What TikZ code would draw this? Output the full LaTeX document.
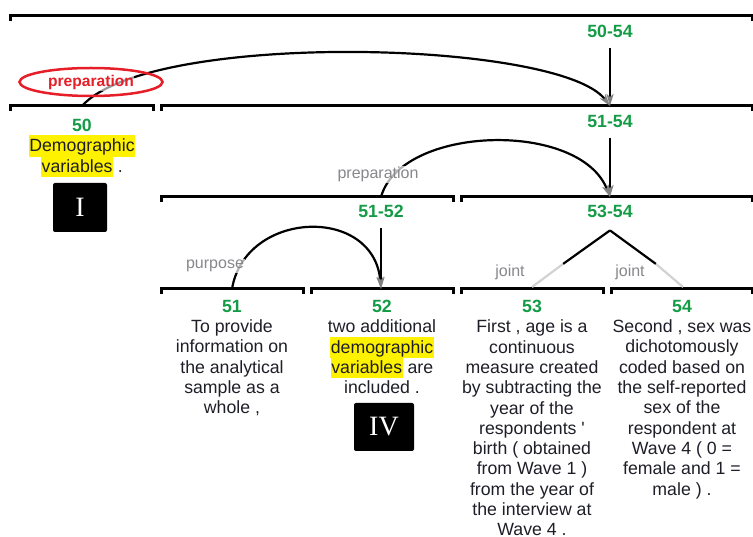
\documentclass[tikz,border=0pt]{standalone}
\usepackage{fontspec}
\setmainfont{Liberation Sans}
\newfontfamily\numeralfont{Liberation Serif}
\usetikzlibrary{arrows.meta,shapes.geometric}
\definecolor{spangreen}{RGB}{20,155,70}
\definecolor{relgray}{RGB}{135,135,140}
\definecolor{prepred}{RGB}{230,30,40}
\definecolor{textdark}{RGB}{30,30,40}
\newcommand\spannum[1]{\textcolor{spangreen}{\bfseries #1}}
\newcommand\hilite[1]{{\setlength{\fboxsep}{0.5pt}\colorbox{yellow}{\rule[-4.5pt]{0pt}{20.5pt}#1}}}
\newcommand\leaffont{\fontsize{17.7}{20.3}\selectfont\setlength{\lineskiplimit}{-20pt}}
\tikzset{
    bar/.style={line width=3pt},
    span/.style={anchor=base,inner sep=0pt,text=spangreen,font=\bfseries\fontsize{17.7}{20.3}\selectfont},
    leaf/.style={anchor=north,align=center,inner sep=0pt,text=textdark,font=\leaffont},
    rel/.style={anchor=base,inner sep=1pt,text=relgray,fill=white,fill opacity=0.7,text opacity=1,font=\fontsize{16}{18}\selectfont},
    link/.style={line width=2.2pt,-{Stealth[length=12pt,width=7pt,inset=3pt,color=gray]}},
    joinline/.style={line width=2.2pt},
    joinfade/.style={line width=2.2pt,draw=gray!35},
    numbox/.style={fill=black,rounded corners=2pt,text=white,font=\numeralfont\fontsize{28}{28}\selectfont},
    prepring/.style={ellipse,draw=prepred,line width=2.5pt,minimum width=143pt,minimum height=28pt,inner sep=0pt},
    preptext/.style={anchor=base,inner sep=0.5pt,text=prepred,fill=white,fill opacity=0.6,text opacity=1,font=\bfseries\fontsize{15.6}{18}\selectfont},
}
\begin{document}
\begin{tikzpicture}[x=1pt,y=-1pt]
    \useasboundingbox (0,0) rectangle (753,537);
    \foreach \a/\b/\y in {10/752/16,10/153/106,161/752/106,161/453/197,461/752/197,161/303/289,311/453/289,461/603/289,611/752/289}
        \draw[bar] (\a,\y+5) -- (\a,\y) -- (\b,\y) -- (\b,\y+5);
    \coordinate (t50) at (82,106);
    \coordinate (t5154) at (610,106);
    \coordinate (t5152) at (381,197);
    \coordinate (t5354) at (610,197);
    \coordinate (t51) at (232,289);
    \coordinate (t52) at (381,289);
    \coordinate (t53) at (532,287);
    \coordinate (t54) at (683,287);
    \coordinate (m53) at (563,264);
    \coordinate (m54) at (656,264);
    \node[span] (l5054) at (610,38) {50-54};
    \node[span] (l5154) at (610,128) {51-54};
    \node[span] (l5152) at (381,218) {51-52};
    \node[span] (l5354) at (610,218) {53-54};
    \draw[link] (t50) .. controls +(68,-76) and +(-50,-66) .. (t5154);
    \draw[link,shorten <=10pt] (l5054.south) -- (t5154);
    \draw[link] (t5152) .. controls +(20,-72) and +(-30,-77) .. (t5354);
    \draw[link,shorten <=10pt] (l5154.south) -- (t5354);
    \draw[link] (t51) .. controls +(13,-79) and +(-7,-84) .. (t52);
    \draw[link,shorten <=10pt] (l5152.south) -- (t52);
    \draw[joinline] ([yshift=-12pt]l5354.south) -- (m53);
    \draw[joinfade] (m53) -- (t53);
    \draw[joinline] ([yshift=-12pt]l5354.south) -- (m54);
    \draw[joinfade] (m54) -- (t54);
    \node[prepring] (ring) at (91,82) {};
    \node[preptext] (prep) at (91,87) {preparation};
    \node[rel] (rprep) at (378,178.5) {preparation};
    \node[rel] (rpurp) at (215,268.5) {purpose};
    \node[rel] (rjoin1) at (510,277) {joint};
    \node[rel] (rjoin2) at (630,277) {joint};
    \node[leaf] (n50) at (82,119) {\spannum{50}\\\hilite{Demographic}\\\hilite{variables} .};
    \node[leaf] (n51) at (232,300) {\spannum{51}\\To provide\\information on\\the analytical\\sample as a\\whole ,};
    \node[leaf] (n52) at (382,300) {\spannum{52}\\two additional\\\hilite{demographic}\\\hilite{variables} are\\included .};
    \node[leaf] (n53) at (532,300) {\spannum{53}\\First , age is a\\continuous\\measure created\\by subtracting the\\year of the\\respondents \textquotesingle\\birth ( obtained\\from Wave 1 )\\from the year of\\the interview at\\Wave 4 .};
    \node[leaf] (n54) at (682,300) {\spannum{54}\\Second , sex was\\dichotomously\\coded based on\\the self-reported\\sex of the\\respondent at\\Wave 4 ( 0 =\\female and 1 =\\male ) .};
    \node[numbox,minimum width=54pt,minimum height=49pt] (box1) at (80,207.5) {I};
    \node[numbox,minimum width=60pt,minimum height=48pt] (box4) at (384,427) {IV};
\end{tikzpicture}
\end{document}
